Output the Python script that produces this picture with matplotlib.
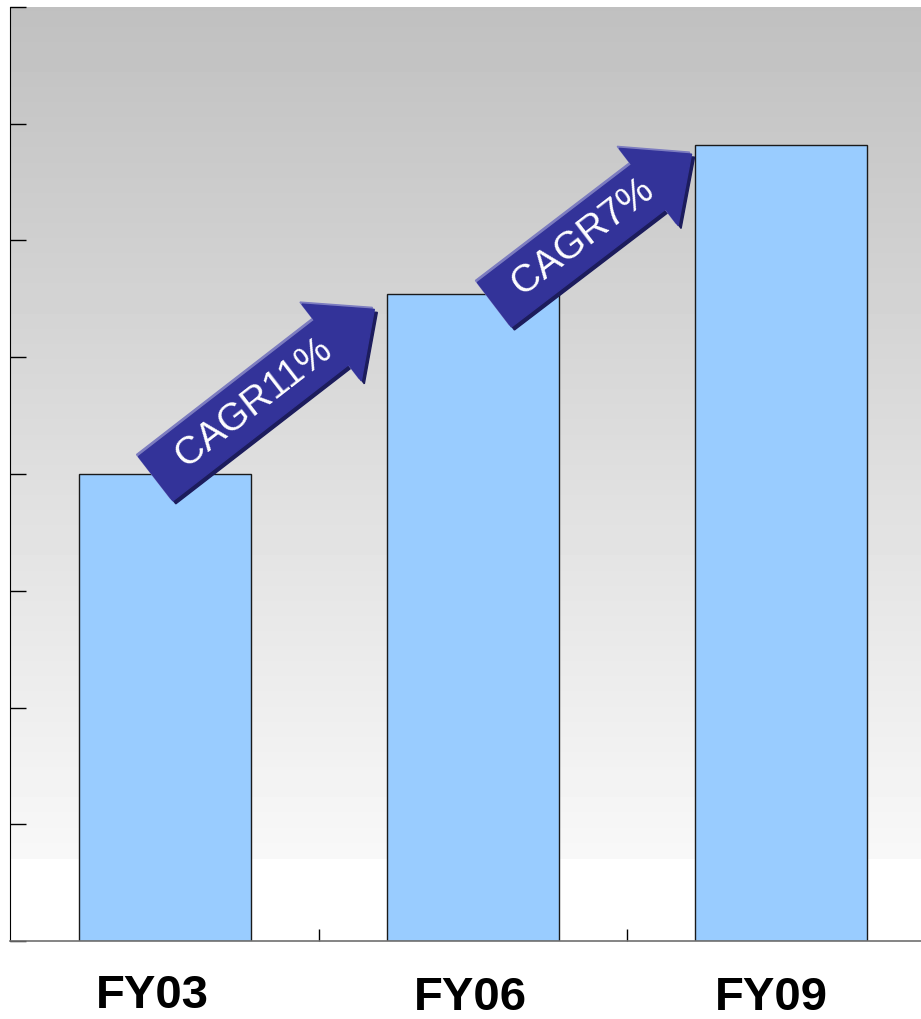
import numpy as np
import matplotlib.pyplot as plt
from matplotlib.patches import Polygon
from matplotlib.transforms import IdentityTransform, blended_transform_factory

# данные
years = ["FY03", "FY06", "FY09"]
values = [4.0, 5.54, 6.82]
cagr_labels = ["CAGR11%", "CAGR7%"]

plt.rcParams['font.family'] = ['Liberation Sans', 'DejaVu Sans']

W, H, DPI = 921, 1019, 100
fig = plt.figure(figsize=(W / DPI, H / DPI), dpi=DPI)
ax = fig.add_axes([10 / W, (H - 941) / H, (W - 10) / W, (941 - 7) / H])

# фон: серый градиент сверху вниз, снизу белая полоса
grad = np.linspace(192, 248, 256) / 255.0
img = np.repeat(grad[:, None], 2, axis=1)
ax.imshow(img, cmap="gray", vmin=0, vmax=1, aspect="auto",
          extent=[0, 1, (941 - 859) / 934, 1], transform=ax.transAxes,
          zorder=0, interpolation="bilinear")

x = np.arange(len(years))
ax.bar(x, values, width=0.56, color="#99ccff", edgecolor="#1a1a1a",
       linewidth=1.0, zorder=2)

ax.set_xlim(-0.503, 2.455)
ax.set_ylim(0, 8)
ax.set_yticks(np.arange(0, 9, 1))
ax.set_yticklabels([])
ax.set_xticks([0.5, 1.5])
ax.set_xticklabels([])
ax.tick_params(axis="y", direction="in", length=11.5, width=1.0, color="black")
ax.tick_params(axis="x", direction="in", length=8.5, width=1.0, color="black")
for s in ["top", "right"]:
    ax.spines[s].set_visible(False)
ax.spines["left"].set_color("black")
ax.spines["bottom"].set_color("#707070")
ax.spines["bottom"].set_linewidth(1.2)
ax.set_facecolor("white")

# подписи лет (слегка смещены, как в исходном слайде)
tr = blended_transform_factory(ax.transData, ax.transAxes)
label_dx = [-0.042, -0.007, -0.03]
label_dy = [-0.059, -0.0605, -0.0605]
for xi, lab, dx, dy in zip(x, years, label_dx, label_dy):
    ax.text(xi + dx, dy, lab, transform=tr, ha="center", va="center",
            fontsize=34, fontweight="bold", color="black")


# стрелки CAGR в пиксельных координатах
def arrow_poly(p0, p1, tail_w=56, head_w=97, head_len=54):
    d = p1 - p0
    L = np.hypot(*d)
    u = d / L
    n = np.array([-u[1], u[0]])
    base = p1 - u * head_len
    return np.array([
        p0 + n * tail_w / 2,
        base + n * tail_w / 2,
        base + n * head_w / 2,
        p1,
        base - n * head_w / 2,
        base - n * tail_w / 2,
        p0 - n * tail_w / 2,
    ])


# смещения начала/конца стрелок относительно столбцов (в единицах данных)
arrow_start_off = [(-0.03, -0.04), (0.07, -0.09)]
arrow_end_off = [(0.68, -0.13), (0.71, -0.08)]

fig.canvas.draw()
for i, lab in enumerate(cagr_labels):
    (sx, sy), (ex, ey) = arrow_start_off[i], arrow_end_off[i]
    start = ax.transData.transform((x[i] + sx, values[i] + sy))
    end = ax.transData.transform((x[i] + ex, values[i + 1] + ey))
    pts = arrow_poly(start, end)
    shadow = Polygon(pts + np.array([3, -3]), closed=True, color="#1c1c5c",
                     transform=IdentityTransform(), zorder=3)
    light = Polygon(pts + np.array([-2, 2]), closed=True, color="#7c7cc0",
                    transform=IdentityTransform(), zorder=3)
    main = Polygon(pts, closed=True, color="#333399",
                   transform=IdentityTransform(), zorder=4)
    for p in (shadow, light, main):
        ax.add_patch(p)
    ang = np.degrees(np.arctan2(end[1] - start[1], end[0] - start[0]))
    mid = start + (end - start) * 0.45
    ax.text(mid[0], mid[1], lab, transform=IdentityTransform(), rotation=ang,
            rotation_mode="anchor", ha="center", va="center", color="white",
            fontsize=28, zorder=5)

fig.savefig("out.png", dpi=DPI)
